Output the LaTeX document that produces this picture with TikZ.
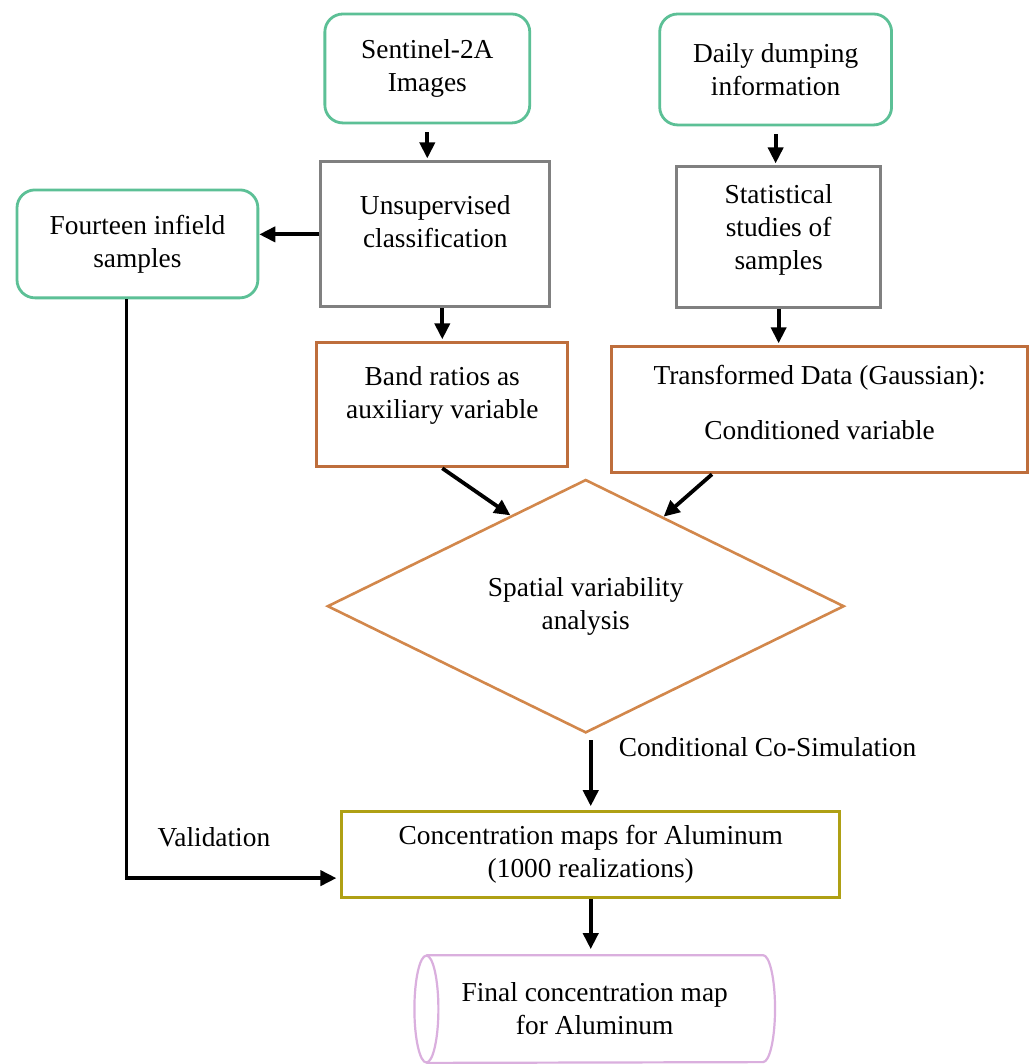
\documentclass[tikz,border=0pt]{standalone}
\usepackage{fontspec}
\setmainfont{Liberation Serif}
\usetikzlibrary{arrows.meta,calc,shapes.geometric}

\definecolor{srcgreen}{RGB}{92,192,150}
\definecolor{procgray}{RGB}{128,128,128}
\definecolor{databrown}{RGB}{190,110,60}
\definecolor{anaorange}{RGB}{210,135,75}
\definecolor{mapolive}{RGB}{175,160,20}
\definecolor{finpink}{RGB}{218,175,222}

\begin{document}
\begin{tikzpicture}[x=0.5pt,y=-0.5pt,
		every node/.style={font=\fontsize{13.7}{16.5}\selectfont, align=center},
		srcbox/.style={draw=srcgreen, line width=1.4pt, rounded corners=9pt, inner sep=0pt},
		procbox/.style={draw=procgray, line width=1.5pt, inner sep=0pt},
		databox/.style={draw=databrown, line width=1.5pt, inner sep=0pt},
		mapbox/.style={draw=mapolive, line width=1.4pt, inner sep=0pt},
		cylline/.style={draw=finpink, line width=1.1pt},
		arr/.style={line width=1.9pt, -{Triangle[length=8pt,width=7.5pt]}}]
			\fill[white] (0,0) rectangle (1033,1064);
			
			\node[srcbox, minimum width=102.5pt, minimum height=54.5pt] (sent) at (427.5,68.5) {Sentinel-2A\\Images};
			\node[srcbox, minimum width=116pt, minimum height=55.5pt] (daily) at (776,69.5) {Daily dumping\\information};
			\node[srcbox, minimum width=120.5pt, minimum height=54pt] (four) at (137.5,244) {Fourteen infield\\samples};
			
			\node[procbox, minimum width=114.5pt, minimum height=72.5pt] (uns) at (435.5,234.5) {Unsupervised\\classification\\[-4pt]\mbox{}};
			\node[procbox, minimum width=102pt, minimum height=70.5pt] (stat) at (779,237.5) {Statistical\\studies of\\samples\\[-6.5pt]\mbox{}};
			
			\node[databox, minimum width=125.5pt, minimum height=62pt] (band) at (442.5,405) {Band ratios as\\auxiliary variable\\[-4pt]\mbox{}};
			\node[databox, minimum width=208pt, minimum height=63pt] (trans) at (820,410) {Transformed Data (Gaussian):\\[11pt]Conditioned variable\\[-9pt]\mbox{}};
			
			\node[diamond, draw=anaorange, line width=1.3pt, minimum width=258.5pt, minimum height=93.5pt, inner sep=0pt] (dia) at (586,606.5) {Spatial variability\\analysis};
			
			\node[mapbox, minimum width=249pt, minimum height=43pt] (conc) at (591,855) {Concentration maps for Aluminum\\(1000 realizations)};
			
			\node[minimum width=168pt, minimum height=53.5pt, inner sep=0pt] (fin) at (595,1009.5) {Final concentration map\\for Aluminum};
			\draw[cylline] (fin.north west) -- (fin.north east) arc[start angle=90, end angle=-90, x radius=6pt, y radius=26.75pt] -- (fin.south west);
			\draw[cylline] (fin.west) ellipse [x radius=6pt, y radius=26.75pt];
			
			\node[anchor=west] (cosim) at (612,747) {Conditional Co-Simulation};
			\node (valid) at (214,838) {Validation};
			
			\draw[arr, shorten <=4pt, shorten >=1pt] (sent.south) -- (sent.south |- uns.north);
			\draw[arr, shorten <=4pt, shorten >=1pt] (daily.south) -- (daily.south |- stat.north);
			\draw[arr] (uns.west) -- (four.east |- uns.west);
			\draw[arr, shorten >=1pt] (uns.south -| band.north) -- (band.north);
			\draw[arr, shorten >=1pt] (stat.south) -- (stat.south |- trans.north);
			\draw[arr] (band.south) -- ($(dia.west)!0.71!(dia.north)$);
			\draw[arr] ($(trans.south west)!0.243!(trans.south east)$) -- ($(dia.north)!0.3!(dia.east)$);
			\draw[arr, shorten <=3pt, shorten >=2pt] (dia.south -| conc.north) -- (conc.north);
			\draw[arr, shorten >=2pt] ($(four.south west)!0.455!(four.south east)$) |- ($(conc.west)!0.53!(conc.south west)$);
			\draw[arr, shorten >=3pt] (conc.south) -- (conc.south |- fin.north);
		\end{tikzpicture}
\end{document}
